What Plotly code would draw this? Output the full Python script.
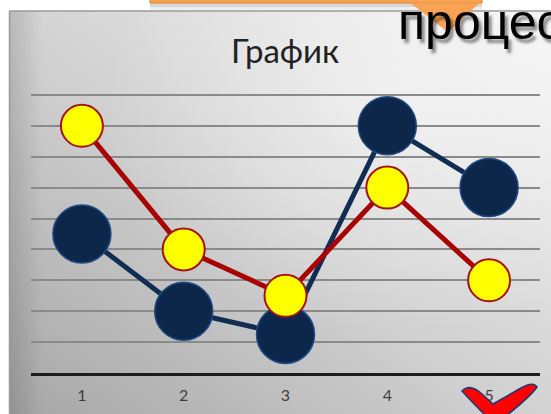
import base64
import plotly.graph_objects as go

W, H = 551, 414

# chart data
categories = ["1", "2", "3", "4", "5"]
series_dark = [4.5, 2.0, 1.25, 8.0, 6.0]
series_yellow = [8.0, 4.0, 2.5, 6.0, 3.0]
grid_values = [1, 2, 3, 4, 5, 6, 7, 8, 9]


def px(x):
    return x / W


def py(y):
    return 1 - y / H


# slide background: grey gradient panel
svg = """<svg xmlns='http://www.w3.org/2000/svg' width='541' height='403' viewBox='0 0 541 403'>
<defs>
<linearGradient id='g' x1='0' y1='1' x2='1' y2='0'>
<stop offset='0' stop-color='#a6a6a6'/>
<stop offset='0.45' stop-color='#cfcfcf'/>
<stop offset='1' stop-color='#f6f6f6'/>
</linearGradient>
<radialGradient id='r' cx='0.72' cy='0.25' r='0.55'>
<stop offset='0' stop-color='#ffffff' stop-opacity='0.45'/>
<stop offset='1' stop-color='#ffffff' stop-opacity='0'/>
</radialGradient>
<linearGradient id='l' x1='0' y1='0' x2='1' y2='0'>
<stop offset='0' stop-color='#000000' stop-opacity='0.12'/>
<stop offset='0.06' stop-color='#000000' stop-opacity='0'/>
</linearGradient>
</defs>
<rect width='541' height='403' fill='url(#g)'/>
<rect width='541' height='403' fill='url(#r)'/>
<rect width='541' height='403' fill='url(#l)'/>
</svg>"""
bg_src = "data:image/svg+xml;base64," + base64.b64encode(svg.encode()).decode()

fig = go.Figure()

fig.add_trace(go.Scatter(
    x=categories, y=series_dark, mode="lines+markers",
    line=dict(color="#112e52", width=5),
    marker=dict(size=58, color="#0c2749", line=dict(color="#1f4a85", width=1.5)),
    cliponaxis=False, showlegend=False, hoverinfo="skip",
))
fig.add_trace(go.Scatter(
    x=categories, y=series_yellow, mode="lines+markers",
    line=dict(color="#a80000", width=5),
    marker=dict(size=42, color="#ffff00", line=dict(color="#a31515", width=2)),
    cliponaxis=False, showlegend=False, hoverinfo="skip",
))

shapes = [
    # slide edges
    dict(type="line", xref="paper", yref="paper", x0=px(9.5), x1=px(9.5), y0=0, y1=py(11),
         line=dict(color="#9a9a9a", width=1.5), layer="above"),
    dict(type="line", xref="paper", yref="paper", x0=px(9.5), x1=1, y0=py(11), y1=py(11),
         line=dict(color="#9a9a9a", width=1.5), layer="above"),
    # callout shadow
    dict(type="rect", xref="paper", yref="paper", x0=px(150), x1=px(482), y0=py(3), y1=py(7),
         fillcolor="rgba(0,0,0,0.16)", line=dict(width=0), layer="above"),
    dict(type="rect", xref="paper", yref="paper", x0=px(150), x1=px(482), y0=py(7), y1=py(10),
         fillcolor="rgba(0,0,0,0.07)", line=dict(width=0), layer="above"),
    # orange callout and its pointer
    dict(type="rect", xref="paper", yref="paper", x0=px(150), x1=px(482), y0=py(3), y1=py(-20),
         fillcolor="#f8a253", line=dict(color="#e8842e", width=1), layer="above"),
    dict(type="path", xref="paper", yref="paper",
         path=f"M {px(411)},{py(3)} L {px(479)},{py(3)} L {px(448)},{py(32)} Z",
         fillcolor="#f8a253", line=dict(color="#f4a050", width=0.5), layer="above"),
    # red check mark
    dict(type="path", xref="paper", yref="paper",
         path=(f"M {px(462)},{py(391)} Q {px(470)},{py(383)} {px(482)},{py(394)} "
               f"L {px(493)},{py(404)} L {px(521)},{py(388)} "
               f"Q {px(533)},{py(381)} {px(537)},{py(387)} "
               f"Q {px(531)},{py(396)} {px(506)},{py(416)} L {px(486)},{py(416)} "
               f"Q {px(471)},{py(401)} {px(462)},{py(391)} Z"),
         fillcolor="#ff0000", line=dict(color="#1f3a6e", width=1.5), layer="above"),
]

annotations = [
    dict(text="График", xref="paper", yref="paper", x=px(285), y=py(50),
         xanchor="center", yanchor="middle", showarrow=False,
         font=dict(family="Lato, Open Sans, sans-serif", size=33, color="#222222")),
    dict(text="процесс", xref="paper", yref="paper", x=px(396), y=py(22),
         xanchor="left", yanchor="middle", showarrow=False,
         font=dict(family="Liberation Sans, Arial, sans-serif", size=50, color="#000000",
                   shadow="3px 4px 3px rgba(0,0,0,0.45)")),
]

fig.update_layout(
    width=W, height=H,
    margin=dict(l=0, r=0, t=0, b=0),
    paper_bgcolor="#ffffff",
    plot_bgcolor="rgba(0,0,0,0)",
    images=[dict(source=bg_src, xref="paper", yref="paper", x=px(10), y=py(11),
                 sizex=1 - px(10), sizey=py(11), xanchor="left", yanchor="top",
                 sizing="stretch", layer="below")],
    shapes=shapes,
    annotations=annotations,
    xaxis=dict(
        type="category", range=[-0.5, 4.5], domain=[px(31), px(540)],
        showgrid=False, zeroline=False, showline=True,
        linecolor="#1c1c1c", linewidth=3,
        ticks="outside", ticklen=6, tickcolor="rgba(0,0,0,0)",
        tickfont=dict(family="Lato, Open Sans, sans-serif", size=16, color="#3f3f3f"),
        fixedrange=True,
    ),
    yaxis=dict(
        range=[0, 10], domain=[py(373), py(64)],
        tickmode="array", tickvals=grid_values, showticklabels=False,
        showgrid=True, gridcolor="#8a8a8a", gridwidth=1.5,
        zeroline=False, showline=False, fixedrange=True,
    ),
)

fig.write_html("out.html")
